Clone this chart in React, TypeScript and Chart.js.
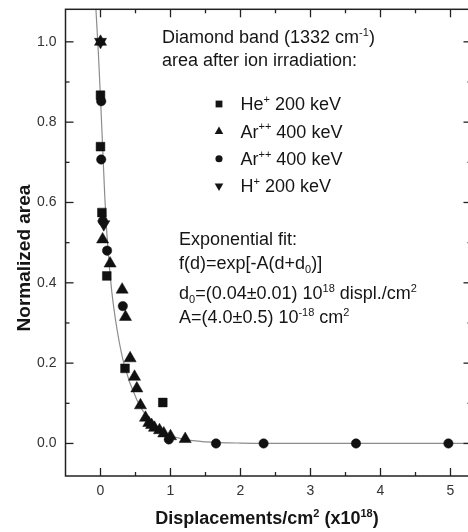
import React, { useEffect, useRef } from 'react';
import { Chart, registerables } from 'chart.js';

Chart.register(...registerables);

// ---- Data ----
const heX = [0, 0, 0.02, 0.09, 0.35, 0.89];
const heY = [0.867, 0.739, 0.575, 0.417, 0.187, 0.102];

const arTriX = [0, 0.03, 0.137, 0.309, 0.357, 0.423, 0.486, 0.519, 0.571, 0.643, 0.69, 0.73, 0.771, 0.843, 0.904, 1.0, 1.21];
const arTriY = [1.0, 0.508, 0.448, 0.383, 0.315, 0.212, 0.166, 0.137, 0.095, 0.064, 0.051, 0.046, 0.039, 0.033, 0.025, 0.018, 0.011];

const arCircX = [0.01, 0.01, 0.033, 0.094, 0.319, 0.976, 1.65, 2.33, 3.65, 4.97];
const arCircY = [0.852, 0.707, 0.554, 0.48, 0.342, 0.01, 0, 0, 0, 0];

const hX = [0, 0.047];
const hY = [1.0, 0.546];

const fitX = [-0.065, -0.03, 0, 0.03, 0.06, 0.1, 0.16, 0.24, 0.34, 0.52, 0.7, 0.86, 1.0, 1.2, 1.5, 2.0, 3.0, 5.3];
const fitY = [1.08, 0.97, 0.86, 0.74, 0.62, 0.5, 0.38, 0.28, 0.195, 0.108, 0.058, 0.033, 0.02, 0.01, 0.004, 0.001, 0, 0];

const xTickValues = [0, 1, 2, 3, 4, 5];
const xTickLabels = ['0', '1', '2', '3', '4', '5'];
const xMinorValues = [0.5, 1.5, 2.5, 3.5, 4.5];
const yTickValues = [0, 0.2, 0.4, 0.6, 0.8, 1.0];
const yTickLabels = ['0.0', '0.2', '0.4', '0.6', '0.8', '1.0'];
const yMinorValues = [0.1, 0.3, 0.5, 0.7, 0.9];

const X_MIN = -0.5;
const X_MAX = 5.3;
const Y_MIN = -0.081;
const Y_MAX = 1.081;

type Seg = [string, 'n' | 'sup' | 'sub'];

const titleLines: Seg[][] = [
  [['Diamond band (1332 cm', 'n'], ['-1', 'sup'], [')', 'n']],
  [['area after ion irradiation:', 'n']],
];
const legendLabels: Seg[][] = [
  [['He', 'n'], ['+', 'sup'], [' 200 keV', 'n']],
  [['Ar', 'n'], ['++', 'sup'], [' 400 keV', 'n']],
  [['Ar', 'n'], ['++', 'sup'], [' 400 keV', 'n']],
  [['H', 'n'], ['+', 'sup'], [' 200 keV', 'n']],
];
const legendShapes = ['rect', 'triangle', 'circle', 'triangleDown'];
const fitLines: Seg[][] = [
  [['Exponential fit:', 'n']],
  [['f(d)=exp[-A(d+d', 'n'], ['0', 'sub'], [')]', 'n']],
  [['d', 'n'], ['0', 'sub'], ['=(0.04\u00b10.01) 10', 'n'], ['18', 'sup'], [' displ./cm', 'n'], ['2', 'sup']],
  [['A=(4.0\u00b10.5) 10', 'n'], ['-18', 'sup'], [' cm', 'n'], ['2', 'sup']],
];
const xTitle: Seg[] = [['Displacements/cm', 'n'], ['2', 'sup'], [' (x10', 'n'], ['18', 'sup'], [')', 'n']];
const yTitle: Seg[] = [['Normalized area', 'n']];

const FAM = '"Liberation Sans", Arial, Helvetica, sans-serif';

function drawRich(ctx: CanvasRenderingContext2D, segs: Seg[], x: number, y: number, size: number, bold: boolean, align: 'left' | 'center') {
  const w = bold ? 'bold ' : '';
  const fontFor = (k: string) => `${w}${k === 'n' ? size : Math.round(size * 0.6)}px ${FAM}`;
  const widths = segs.map(([t, k]) => {
    ctx.font = fontFor(k);
    return ctx.measureText(t).width;
  });
  const total = widths.reduce((a, b) => a + b, 0);
  let cx = align === 'center' ? x - total / 2 : x;
  ctx.textAlign = 'left';
  ctx.textBaseline = 'alphabetic';
  segs.forEach(([t, k], i) => {
    ctx.font = fontFor(k);
    const dy = k === 'sup' ? -size * 0.4 : k === 'sub' ? size * 0.22 : 0;
    ctx.fillText(t, cx, y + dy);
    cx += widths[i];
  });
}

function drawMarker(ctx: CanvasRenderingContext2D, shape: string, x: number, y: number, r: number) {
  ctx.beginPath();
  if (shape === 'rect') {
    ctx.rect(x - r, y - r, 2 * r, 2 * r);
  } else if (shape === 'circle') {
    ctx.arc(x, y, r * 1.05, 0, Math.PI * 2);
  } else if (shape === 'triangle') {
    const h = r * 1.45;
    ctx.moveTo(x, y - h);
    ctx.lineTo(x + h * 0.87, y + h * 0.5);
    ctx.lineTo(x - h * 0.87, y + h * 0.5);
    ctx.closePath();
  } else {
    const h = r * 1.45;
    ctx.moveTo(x, y + h);
    ctx.lineTo(x + h * 0.87, y - h * 0.5);
    ctx.lineTo(x - h * 0.87, y - h * 0.5);
    ctx.closePath();
  }
  ctx.fill();
}

const framePlugin = {
  id: 'framePlugin',
  afterDraw(chart: any) {
    const ctx: CanvasRenderingContext2D = chart.ctx;
    const { left, right, top, bottom } = chart.chartArea;
    const xs = chart.scales.x;
    const ys = chart.scales.y;
    ctx.save();
    ctx.strokeStyle = '#222';
    ctx.lineWidth = 1.5;
    ctx.strokeRect(left, top, right - left, bottom - top);
    ctx.lineWidth = 1.3;
    const tick = (x1: number, y1: number, x2: number, y2: number) => {
      ctx.beginPath();
      ctx.moveTo(x1, y1);
      ctx.lineTo(x2, y2);
      ctx.stroke();
    };
    const MAJ = 8;
    const MIN = 4;
    xTickValues.forEach((v) => {
      const p = xs.getPixelForValue(v);
      tick(p, bottom, p, bottom - MAJ);
      tick(p, top, p, top + MAJ);
    });
    xMinorValues.forEach((v) => {
      const p = xs.getPixelForValue(v);
      tick(p, bottom, p, bottom - MIN);
      tick(p, top, p, top + MIN);
    });
    yTickValues.forEach((v) => {
      const p = ys.getPixelForValue(v);
      tick(left, p, left + MAJ, p);
      tick(right, p, right - MAJ, p);
    });
    yMinorValues.forEach((v) => {
      const p = ys.getPixelForValue(v);
      tick(left, p, left + MIN, p);
      tick(right, p, right - MIN, p);
    });

    // Annotation texts
    ctx.fillStyle = '#151515';
    drawRich(ctx, titleLines[0], 162, 43, 18, false, 'left');
    drawRich(ctx, titleLines[1], 162, 66, 18, false, 'left');
    const legY = [110, 137.5, 164.8, 192];
    legendLabels.forEach((segs, i) => {
      drawRich(ctx, segs, 240.5, legY[i], 18, false, 'left');
      drawMarker(ctx, legendShapes[i], 219, legY[i] - 6, 3.4);
    });
    const fitYs = [245, 269, 299, 323];
    fitLines.forEach((segs, i) => drawRich(ctx, segs, 179, fitYs[i], 18, false, 'left'));

    // Axis titles
    drawRich(ctx, xTitle, 267, 524, 18, true, 'center');
    ctx.save();
    ctx.translate(30, 258);
    ctx.rotate(-Math.PI / 2);
    drawRich(ctx, yTitle, 0, 0, 19, true, 'center');
    ctx.restore();
    ctx.restore();
  },
};

export default function App() {
  const ref = useRef<HTMLCanvasElement | null>(null);
  useEffect(() => {
    if (!ref.current) return;
    const pts = (xs: number[], ys: number[]) => xs.map((x, i) => ({ x, y: ys[i] }));
    const chart = new Chart(ref.current, {
      type: 'scatter',
      data: {
        datasets: [
          {
            label: 'fit',
            data: pts(fitX, fitY),
            showLine: true,
            cubicInterpolationMode: 'monotone',
            pointRadius: 0,
            borderColor: '#8c8c8c',
            borderWidth: 1.2,
            order: 10,
          } as any,
          {
            label: 'He+ 200 keV',
            data: pts(heX, heY),
            pointStyle: 'rect',
            pointRadius: 6.2,
            backgroundColor: '#111',
            borderColor: '#111',
            borderWidth: 0.5,
            order: 4,
          },
          {
            label: 'Ar++ 400 keV (circ)',
            data: pts(arCircX, arCircY),
            pointStyle: 'circle',
            pointRadius: 4.7,
            backgroundColor: '#111',
            borderColor: '#111',
            borderWidth: 0.5,
            order: 3,
          },
          {
            label: 'Ar++ 400 keV (tri)',
            data: pts(arTriX, arTriY),
            pointStyle: 'triangle',
            pointRadius: 7,
            backgroundColor: '#111',
            borderColor: '#111',
            borderWidth: 0.5,
            order: 2,
          },
          {
            label: 'H+ 200 keV',
            data: pts(hX, hY),
            pointStyle: 'triangle',
            rotation: 180,
            pointRadius: 7,
            backgroundColor: '#111',
            borderColor: '#111',
            borderWidth: 0.5,
            order: 1,
          } as any,
        ],
      },
      options: {
        responsive: false,
        animation: false,
        events: [],
        layout: { autoPadding: false, padding: { top: 9.3, right: 4.5, left: 0, bottom: 0 } },
        plugins: { legend: { display: false }, tooltip: { enabled: false } },
        scales: {
          x: {
            type: 'linear',
            min: X_MIN,
            max: X_MAX,
            grid: { display: false, drawTicks: false },
            border: { display: false },
            ticks: {
              font: { family: FAM, size: 14 },
              color: '#333',
              padding: 7,
              maxRotation: 0,
              callback: (_v: any, i: number) => xTickLabels[i],
            },
            afterBuildTicks: (s: any) => {
              s.ticks = xTickValues.map((v) => ({ value: v }));
            },
            afterFit: (s: any) => {
              s.height = 56;
              s.paddingLeft = 0;
              s.paddingRight = 0;
            },
          },
          y: {
            type: 'linear',
            min: Y_MIN,
            max: Y_MAX,
            grid: { display: false, drawTicks: false },
            border: { display: false },
            ticks: {
              font: { family: FAM, size: 14 },
              color: '#333',
              padding: 9,
              callback: (_v: any, i: number) => yTickLabels[i],
            },
            afterBuildTicks: (s: any) => {
              s.ticks = yTickValues.map((v) => ({ value: v }));
            },
            afterFit: (s: any) => {
              s.width = 65.5;
              s.paddingTop = 0;
              s.paddingBottom = 0;
            },
          },
        },
      } as any,
      plugins: [framePlugin],
    });
    return () => chart.destroy();
  }, []);
  return (
    <div style={{ position: 'absolute', left: 0, top: 0, width: 468, height: 532, overflow: 'hidden', background: '#fff' }}>
      <canvas ref={ref} width={476} height={532} style={{ width: 476, height: 532, display: 'block' }} />
    </div>
  );
}
